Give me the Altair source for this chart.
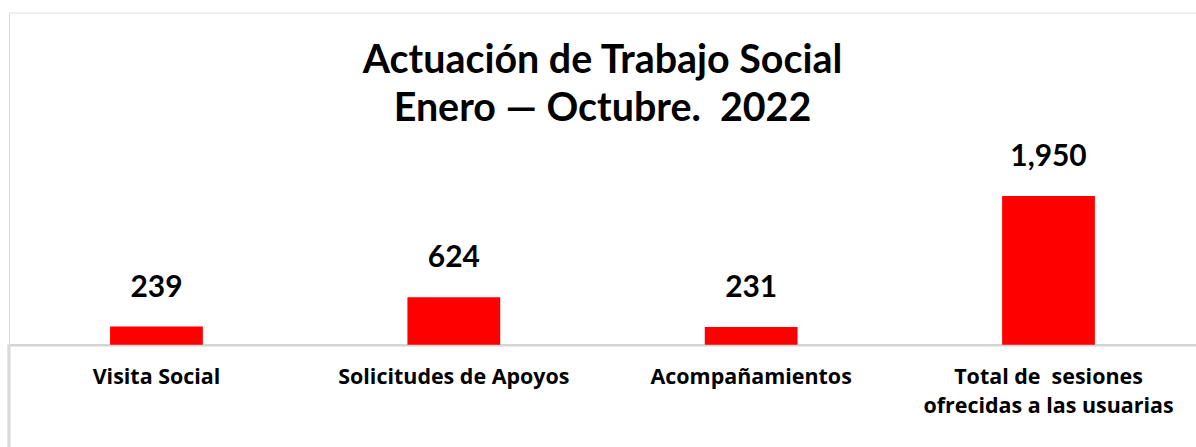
import altair as alt
import pandas as pd

categories = ["Visita Social", "Solicitudes de Apoyos", "Acompañamientos",
              "Total de \u00a0sesiones|ofrecidas a las usuarias"]
values = [239, 624, 231, 1950]
title_lines = ["Actuación de Trabajo Social", "Enero \u2014 Octubre.\u00a0 2022"]

df = pd.DataFrame({"cat": categories, "val": values})

FONT = "Lato"
LABEL_FONT = "Open Sans"

x = alt.X("cat:N", sort=categories,
          scale=alt.Scale(paddingInner=0.688, paddingOuter=0.34),
          axis=alt.Axis(title=None, labelAngle=0, ticks=False, domain=True,
                        domainColor="#d4d4d4", domainWidth=2.5,
                        labelFont=LABEL_FONT, labelFontSize=21.5, labelFontWeight="bold",
                        labelColor="#000000", labelPadding=22, labelBaseline="top",
                        labelLineHeight=29, labelLimit=400,
                        labelExpr="split(datum.label, '|')"))
y = alt.Y("val:Q", scale=alt.Scale(domain=[0, 4358], nice=False, zero=True),
          axis=None)

base = alt.Chart(df)
bars = base.mark_bar(color="#ff0000").encode(x=x, y=y)
labels = base.mark_text(font=FONT, fontSize=30, fontWeight="bold", color="#000000",
                        baseline="bottom", dy=-24).encode(
    x=x, y=y, text=alt.Text("val:Q", format=",.0f"))

left_edge = base.mark_rule(color="#d9d9d9", strokeWidth=2.5, clip=False).encode(
    x=alt.value(0), y=alt.value(333), y2=alt.value(440))

chart = alt.layer(bars, labels, left_edge).properties(
    width=1190, height=333,
    autosize=alt.AutoSizeParams(type="none"),
    padding={"left": 9, "top": 12, "right": 0, "bottom": 102},
    title=alt.TitleParams(text=title_lines, font=FONT, fontSize=39.5, fontWeight="bold",
                          color="#000000", anchor="middle", baseline="top",
                          lineHeight=48, offset=-117),
).configure_view(stroke="#d9d9d9", strokeWidth=2.5).configure(background="#ffffff")

chart.save("out.html", embed_options={"renderer": "svg", "actions": False})
